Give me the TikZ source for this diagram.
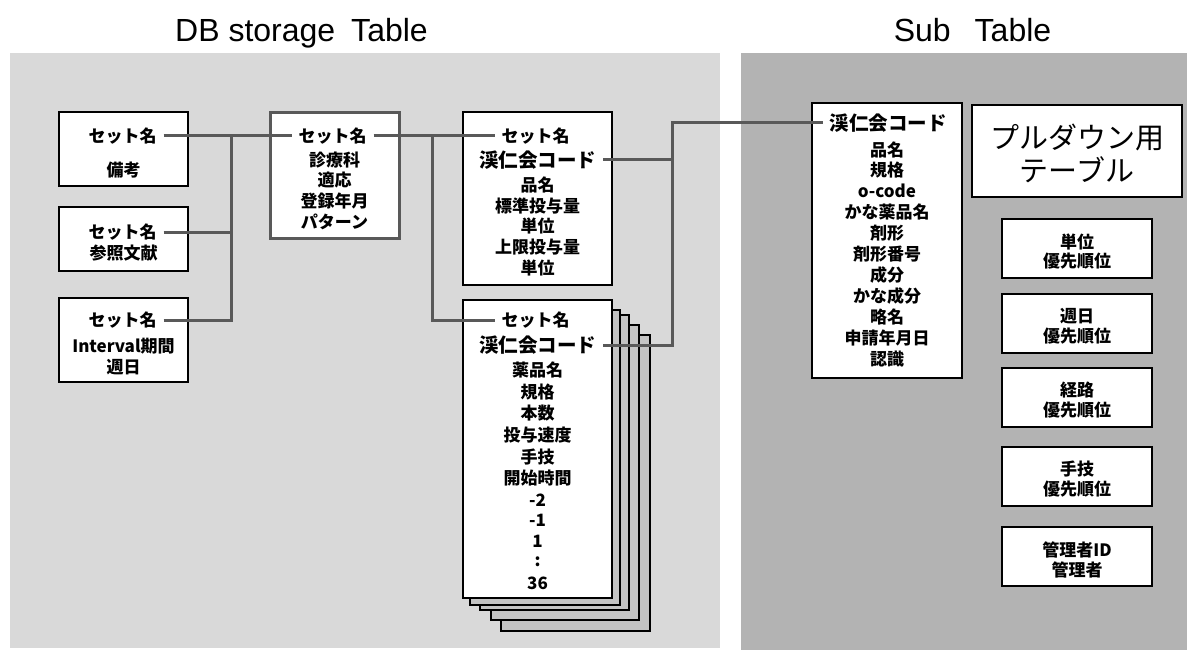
\documentclass[tikz,border=0pt]{standalone}
\usepackage{fontspec}
\setmainfont{Noto Sans CJK JP}
\newfontfamily\titlefont{Liberation Sans}
\definecolor{lpanel}{HTML}{D9D9D9}
\definecolor{dpanel}{HTML}{B3B3B3}
\definecolor{layer}{HTML}{C4C4C4}
\definecolor{conn}{HTML}{595959}
\tikzset{
  box/.style={draw=black,line width=2.5pt,fill=white,inner sep=0pt},
  layerbox/.style={draw=black,line width=2.5pt,fill=layer},
  gbox/.style={draw=conn,line width=3pt,fill=white,inner sep=0pt},
  lbl/.style={font=\fontsize{17}{17}\selectfont\bfseries,inner sep=0pt,outer sep=0pt},
  key/.style={font=\fontsize{17}{17}\selectfont\bfseries,inner xsep=4pt,inner ysep=0pt,outer sep=3pt},
  code/.style={font=\fontsize{19.5}{19.5}\selectfont\bfseries,inner xsep=4pt,inner ysep=0pt,outer sep=3pt},
  big/.style={font=\fontsize{29}{29}\selectfont,inner sep=0pt},
  ttl/.style={font=\titlefont\fontsize{32}{32}\selectfont,anchor=base,inner sep=0pt},
  link/.style={draw=conn,line width=3pt},
}
\begin{document}
\begin{tikzpicture}[x=1pt,y=-1pt]
\useasboundingbox (0,0) rectangle (1187,650);
% panels
\fill[lpanel] (10,53) rectangle (720,648);
\fill[dpanel] (741,53) rectangle (1187,650);
\node[ttl] (t1) at (301.5,42) {DB storage\hspace{16pt}Table};
\node[ttl] (t2) at (972.5,42) {Sub\hspace{24pt}Table};

% left column
\node[box,minimum width=129pt,minimum height=74pt] (a1) at (123.5,149) {};
\node[key] (a1k) at (122.5,136) {セット名};
\node[lbl] at (123.5,170) {備考};

\node[box,minimum width=129pt,minimum height=64pt] (a2) at (123.5,239) {};
\node[key] (a2k) at (122.5,232) {セット名};
\node[lbl] at (123.5,253) {参照文献};

\node[box,minimum width=129pt,minimum height=84pt] (a3) at (123.5,340) {};
\node[key] (a3k) at (122.5,320) {セット名};
\node[lbl] at (123.5,346) {Interval期間};
\node[lbl] at (123.5,367) {週日};

% B
\node[gbox,minimum width=129pt,minimum height=125pt] (b) at (334.5,175.5) {};
\node[key] (bk) at (332.5,136) {セット名};
\node[lbl] at (334.5,160) {診療科};
\node[lbl] at (334.5,180) {適応};
\node[lbl] at (334.5,201) {登録年月};
\node[lbl] at (334.5,222) {パターン};

% C1
\node[box,minimum width=149pt,minimum height=173pt] (c1) at (537.5,198.5) {};
\node[key] (c1k) at (535.5,136) {セット名};
\node[code] (c1c) at (537.5,160) {渓仁会コード};
\node[lbl] at (537.5,185) {品名};
\node[lbl] at (537.5,206) {標準投与量};
\node[lbl] at (537.5,226) {単位};
\node[lbl] at (537.5,247) {上限投与量};
\node[lbl] at (537.5,268) {単位};

% C2 stack (sheets behind)
\draw[layerbox] (501,335) rectangle (650,631);
\draw[layerbox] (491,325) rectangle (639,620);
\draw[layerbox] (480,315) rectangle (629,610);
\draw[layerbox] (470,310) rectangle (620,605);
\node[box,minimum width=149pt,minimum height=298pt] (c2) at (537.5,449) {};
\node[key] (c2k) at (535.5,320) {セット名};
\node[code] (c2c) at (537.5,345) {渓仁会コード};
\foreach \t/\y in {薬品名/370,規格/392,本数/413,投与速度/435,手技/457,開始時間/478,-2/500,-1/520,1/541,:/562,36/583}{
  \node[lbl] at (537.5,\y) {\t};
}

% D
\node[box,minimum width=150pt,minimum height=275pt] (d) at (887,240.5) {};
\node[code] (dc) at (888,123) {渓仁会コード};
\foreach \t/\y in {品名/150,規格/170,o-code/191,かな薬品名/212,剤形/233,剤形番号/254,成分/275,かな成分/296,略名/317,申請年月日/338,認識/359}{
  \node[lbl] at (887,\y) {\t};
}

% E
\node[box,minimum width=210pt,minimum height=92pt] (e) at (1077,151) {};
\node[big] at (1077,137) {プルダウン用};
\node[big] at (1077,170) {テーブル};

% small boxes
\foreach \n/\c/\a/\b in {s1/248.5/単位/優先順位,s2/323.5/週日/優先順位,s3/397.5/経路/優先順位,s4/476.5/手技/優先順位,s5/556.5/管理者ID/管理者}{
  \node[box,minimum width=150pt,minimum height=59pt] (\n) at (1077,\c) {};
  \node[lbl] at (1077,\c-7) {\a};
  \node[lbl] at (1077,\c+13) {\b};
}

% connectors
\coordinate (j1) at (231,136);
\coordinate (j2) at (432,136);
\coordinate (j3) at (672,123);
\draw[link] (a1k.east) -- (bk.west);
\draw[link] (a2k.east) -- (a2k.east -| j1);
\draw[link] (a3k.east) -| (j1);
\draw[link] (bk.east) -- (c1k.west);
\draw[link] (j2) |- (c2k.west);
\draw[link] (c1c.east) -- (c1c.east -| j3);
\draw[link] (c2c.east) -| (j3) -- (dc.west);
\end{tikzpicture}
\end{document}
